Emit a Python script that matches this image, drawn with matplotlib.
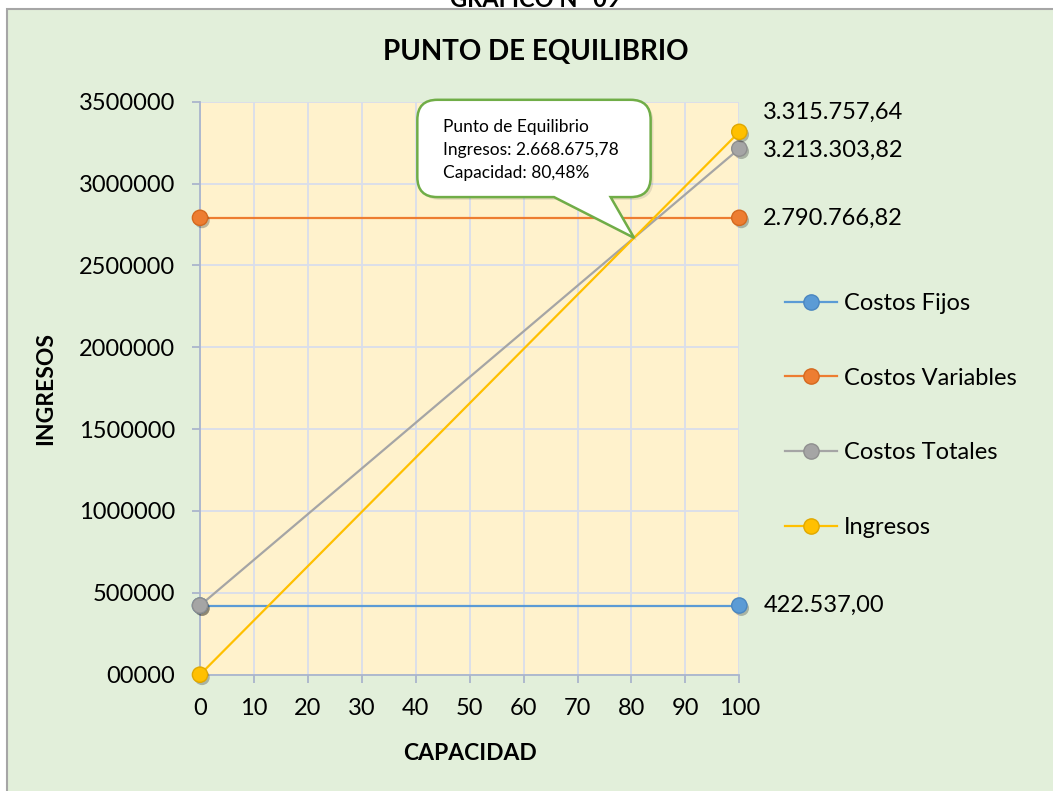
import matplotlib
matplotlib.use("Agg")
import matplotlib.pyplot as plt
import matplotlib.patheffects as pe
from matplotlib.patches import Rectangle, PathPatch
from matplotlib.path import Path
from matplotlib.transforms import IdentityTransform
from matplotlib.lines import Line2D

plt.rcParams['font.family'] = ['Lato', 'DejaVu Sans']

# ---- data -------------------------------------------------------------
capacidad = [0, 100]
costos_fijos = [422537.00, 422537.00]
costos_variables = [2790766.82, 2790766.82]
costos_totales = [422537.00, 3213303.82]
ingresos = [0.00, 3315757.64]

series_names = ["Costos Fijos", "Costos Variables", "Costos Totales", "Ingresos"]
series_values = [costos_fijos, costos_variables, costos_totales, ingresos]
series_colors = ["#5B9BD5", "#ED7D31", "#A5A5A5", "#FFC000"]
marker_edges = ["#4A86C0", "#D4691F", "#8F8F8F", "#E0A800"]

x_ticks = [0, 10, 20, 30, 40, 50, 60, 70, 80, 90, 100]
y_ticks = [0, 500000, 1000000, 1500000, 2000000, 2500000, 3000000, 3500000]
y_tick_labels = ["00000", "500000", "1000000", "1500000", "2000000",
                 "2500000", "3000000", "3500000"]

equilibrio_capacidad = 80.48
equilibrio_ingresos = 2668675.78

# vertical nudges (pixels) for the end-point value labels
label_nudge = [0, -1, -2, 20]


def formato_es(v):
    s = f"{v:,.2f}"
    return s.replace(",", "X").replace(".", ",").replace("X", ".")


# ---- figure -----------------------------------------------------------
W, H = 1053, 791
fig = plt.figure(figsize=(W / 100, H / 100), dpi=100)
fig.patch.set_facecolor("white")

# chart area background with grey frame
fig.add_artist(Rectangle((6.5 / W, -0.02), 1.2, 1.02 - 9 / H,
                         transform=fig.transFigure, facecolor="#E2EFDA",
                         edgecolor="#A6A6A6", linewidth=1.5, zorder=-10))

fig.text(535 / W, 1 - 7 / H, "GRAFICO N° 09", ha="center", va="baseline",
         fontsize=17, fontweight="bold", color="black")
fig.text(536 / W, 1 - 52 / H, "PUNTO DE EQUILIBRIO", ha="center", va="center",
         fontsize=20, fontweight="bold", color="black")

ax = fig.add_axes([200 / W, (H - 674.7) / H, 539.3 / W, (674.7 - 101.7) / H])
ax.set_facecolor("#FFF2CC")
ax.set_xlim(0, 100)
ax.set_ylim(0, 3500000)
ax.set_xticks(x_ticks)
ax.set_xticklabels([str(t) for t in x_ticks])
ax.set_yticks(y_ticks)
ax.set_yticklabels(y_tick_labels)
ax.grid(True, color="#D9DEEC", linewidth=1.3)
ax.set_axisbelow(True)
for side in ("top", "right"):
    ax.spines[side].set_visible(False)
for side in ("left", "bottom"):
    ax.spines[side].set_color("#AAB5CC")
    ax.spines[side].set_linewidth(1.3)
ax.tick_params(axis="both", colors="#AAB5CC", length=6, width=1.3,
               labelsize=17, labelcolor="black")
ax.tick_params(axis="y", pad=12)
ax.tick_params(axis="x", pad=11)

ax.set_xlabel("CAPACIDAD", fontsize=16.5, fontweight="bold", labelpad=17)
ax.set_ylabel("INGRESOS", fontsize=16.5, fontweight="bold")
ax.yaxis.set_label_coords(-0.267, 0.5)

shadow = [pe.SimplePatchShadow(offset=(1.5, -2), shadow_rgbFace="#000000",
                               alpha=0.25), pe.Normal()]
handles = []
for name, vals, col, ec, dy in zip(series_names, series_values, series_colors,
                                   marker_edges, label_nudge):
    ax.plot(capacidad, vals, color=col, linewidth=1.6, zorder=3,
            clip_on=False)
    ax.plot(capacidad, vals, linestyle="none", marker="o", markersize=11,
            markerfacecolor=col, markeredgecolor=ec, markeredgewidth=1,
            zorder=5, clip_on=False, path_effects=shadow)
    handles.append(Line2D([0], [0], color=col, linewidth=1.6, marker="o",
                          markersize=11, markerfacecolor=col,
                          markeredgecolor=ec, markeredgewidth=1, label=name))
    ax.annotate(formato_es(vals[-1]), xy=(capacidad[-1], vals[-1]),
                xytext=(24, dy), textcoords="offset pixels",
                ha="left", va="center", fontsize=17, color="black",
                annotation_clip=False)

fig.legend(handles=handles, loc="center left",
           bbox_to_anchor=(785 / W, 1 - 415.5 / H),
           bbox_transform=fig.transFigure, frameon=False, fontsize=17,
           handlelength=2.2, handletextpad=0.3, labelspacing=2.27,
           borderpad=0, borderaxespad=0)

# ---- callout pointing at the break-even point -------------------------
tx, ty = ax.transData.transform((equilibrio_capacidad, equilibrio_ingresos))
L, R = tx - 216.7, tx + 16.6
T, B = ty + 138, ty + 40.7
x1, x2 = tx - 80, tx - 23.4
r = 20
verts = [(L + r, T), (R - r, T), (R, T), (R, T - r), (R, B + r), (R, B),
         (R - r, B), (x2, B), (tx, ty), (x1, B), (L + r, B), (L, B),
         (L, B + r), (L, T - r), (L, T), (L + r, T), (L + r, T)]
codes = [Path.MOVETO, Path.LINETO, Path.CURVE3, Path.CURVE3, Path.LINETO,
         Path.CURVE3, Path.CURVE3, Path.LINETO, Path.LINETO, Path.LINETO,
         Path.LINETO, Path.CURVE3, Path.CURVE3, Path.LINETO, Path.CURVE3,
         Path.CURVE3, Path.CLOSEPOLY]
callout = PathPatch(Path(verts, codes), facecolor="white", edgecolor="#70AD47",
                    linewidth=1.8, transform=IdentityTransform(), zorder=20,
                    path_effects=[pe.SimplePatchShadow(offset=(2, -2),
                                                       alpha=0.15),
                                  pe.Normal()])
fig.add_artist(callout)

callout_lines = ["Punto de Equilibrio",
                 "Ingresos: " + formato_es(equilibrio_ingresos),
                 "Capacidad: " + formato_es(equilibrio_capacidad) + "%"]
for i, line in enumerate(callout_lines):
    fig.text(tx - 190.7, ty + 111 - 23.2 * i, line, transform=IdentityTransform(),
             ha="left", va="center", fontsize=12.5, color="black", zorder=21)

fig.savefig("out.png", dpi=100)
